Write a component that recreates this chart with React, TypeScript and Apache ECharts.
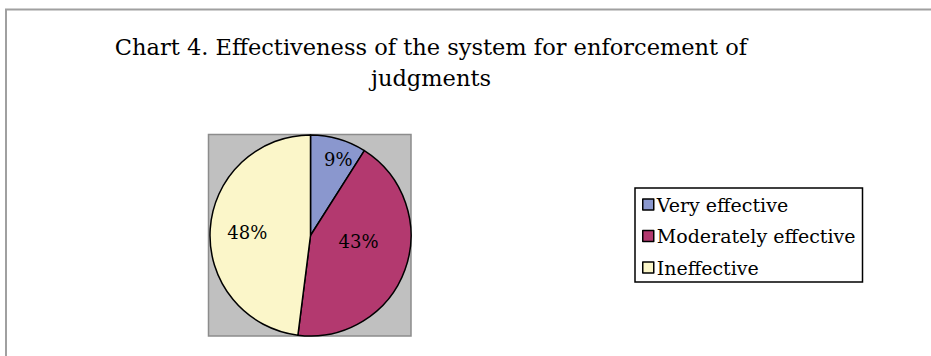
import React, { useEffect, useRef } from "react";
import * as echarts from "echarts";

const titleLines = ["Chart 4. Effectiveness of the system for enforcement of", "judgments"];
const categories = ["Very effective", "Moderately effective", "Ineffective"];
const values = [9, 43, 48];
const colors = ["#8A97CE", "#B3396F", "#FBF6C9"];
const labelOffsets: [number, number][] = [[13, -25], [-2, -12], [-10, 0]];

const FONT = "'DejaVu Serif', 'Liberation Serif', serif";

export default function App() {
  const ref = useRef<HTMLDivElement>(null);
  useEffect(() => {
    if (!ref.current) return;
    const chart = echarts.init(ref.current, null, { renderer: "svg" });
    chart.setOption({
      animation: false,
      backgroundColor: "#ffffff",
      title: {
        text: titleLines.join("\n"),
        left: 431,
        top: 31,
        padding: 0,
        textAlign: "center",
        textStyle: {
          fontFamily: FONT,
          fontSize: 22.5,
          fontWeight: "normal",
          color: "#000",
          lineHeight: 31,
        },
      },
      graphic: [
        {
          type: "rect",
          shape: { x: 6, y: 9.5, width: 940, height: 360 },
          style: { fill: "none", stroke: "#a0a0a0", lineWidth: 2 },
          silent: true,
          z: -10,
        },
        {
          type: "rect",
          shape: { x: 208.5, y: 134.5, width: 202.5, height: 201.5 },
          style: { fill: "#C0C0C0", stroke: "#8c8c8c", lineWidth: 1.5 },
          silent: true,
          z: -5,
        },
      ],
      legend: {
        orient: "vertical",
        left: 635,
        top: 188,
        data: categories,
        icon: "rect",
        itemWidth: 11,
        itemHeight: 11,
        itemGap: 10.5,
        borderColor: "#000",
        borderWidth: 1.5,
        borderRadius: 0,
        padding: [6, 7, 4, 7],
        selectedMode: false,
        itemStyle: { borderColor: "#000", borderWidth: 1.5 },
        textStyle: {
          fontFamily: FONT,
          fontSize: 19,
          color: "#000",
          lineHeight: 21,
          padding: [0, 0, 0, -2],
        },
      },
      series: [
        {
          type: "pie",
          center: [310.5, 235.5],
          radius: [0, 100.5],
          startAngle: 90,
          clockwise: true,
          avoidLabelOverlap: false,
          data: categories.map((name, i) => ({
            name,
            value: values[i],
            itemStyle: { color: colors[i] },
            label: { offset: labelOffsets[i] },
          })),
          itemStyle: { borderColor: "#000", borderWidth: 1.5 },
          label: {
            show: true,
            position: "inside",
            formatter: "{d}%",
            fontFamily: FONT,
            fontSize: 18,
            color: "#000",
          },
          labelLine: { show: false },
          emphasis: { disabled: true },
        },
      ],
    });
    return () => chart.dispose();
  }, []);
  return (
    <div
      ref={ref}
      style={{ position: "fixed", left: 0, top: 0, width: 931, height: 356 }}
    />
  );
}
